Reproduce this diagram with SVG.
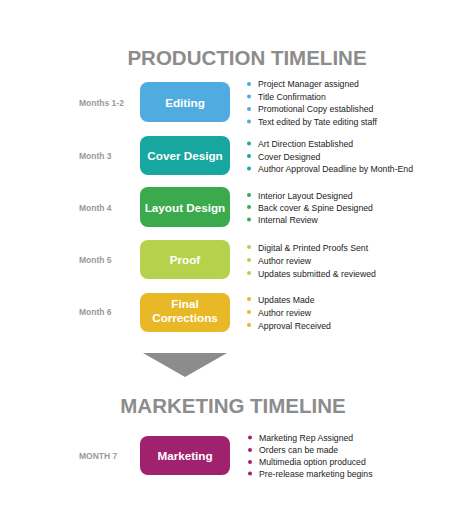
<svg xmlns="http://www.w3.org/2000/svg" width="474" height="522" viewBox="0 0 474 522">
<style>
.title{font-family:"Liberation Sans",Arial,sans-serif;font-weight:bold;font-size:20.5px;fill:#8c8c8c}
.month{font-family:"Liberation Sans",Arial,sans-serif;font-weight:bold;font-size:8.5px;fill:#9a9a9a}
.lbl{font-family:"Liberation Sans",Arial,sans-serif;font-weight:bold;font-size:11.7px;fill:#fff;text-anchor:middle}
.item{font-family:"Liberation Sans",Arial,sans-serif;font-size:8.7px;fill:#222}
</style>
<rect width="474" height="522" fill="#fff"/>
<text class="title" x="247" y="65" text-anchor="middle">PRODUCTION TIMELINE</text>
<g id="editing">
<text class="month" x="79" y="106">Months 1-2</text>
<rect x="140" y="82" width="90" height="40" rx="8" fill="#4fabe0"/>
<text class="lbl" x="185" y="106.5">Editing</text>
<g fill="#4fabe0"><circle cx="249" cy="84" r="2"/><circle cx="249" cy="96.5" r="2"/><circle cx="249" cy="109" r="2"/><circle cx="249" cy="121.5" r="2"/></g>
<text class="item" x="258" y="87">Project Manager assigned</text>
<text class="item" x="258" y="99.5">Title Confirmation</text>
<text class="item" x="258" y="112">Promotional Copy established</text>
<text class="item" x="258" y="124.5">Text edited by Tate editing staff</text>
</g>
<g id="cover">
<text class="month" x="79" y="159">Month 3</text>
<rect x="140" y="136" width="90" height="39" rx="8" fill="#18a6a0"/>
<text class="lbl" x="185" y="160">Cover Design</text>
<g fill="#18a6a0"><circle cx="249" cy="143.5" r="2"/><circle cx="249" cy="156" r="2"/><circle cx="249" cy="168.5" r="2"/></g>
<text class="item" x="258" y="147">Art Direction Established</text>
<text class="item" x="258" y="159.5">Cover Designed</text>
<text class="item" x="258" y="172">Author Approval Deadline by Month-End</text>
</g>
<g id="layout">
<text class="month" x="79" y="211">Month 4</text>
<rect x="140" y="187" width="90" height="40" rx="8" fill="#3aaa4c"/>
<text class="lbl" x="185" y="212">Layout Design</text>
<g fill="#3aaa4c"><circle cx="249" cy="195" r="2"/><circle cx="249" cy="207" r="2"/><circle cx="249" cy="219.5" r="2"/></g>
<text class="item" x="258" y="198.5">Interior Layout Designed</text>
<text class="item" x="258" y="210.5">Back cover &amp; Spine Designed</text>
<text class="item" x="258" y="223">Internal Review</text>
</g>
<g id="proof">
<text class="month" x="79" y="263">Month 5</text>
<rect x="140" y="240" width="90" height="39" rx="8" fill="#b6d24c"/>
<text class="lbl" x="185" y="264">Proof</text>
<g fill="#b6d24c"><circle cx="249" cy="247" r="2"/><circle cx="249" cy="260" r="2"/><circle cx="249" cy="273" r="2"/></g>
<text class="item" x="258" y="250.5">Digital &amp; Printed Proofs Sent</text>
<text class="item" x="258" y="263.5">Author review</text>
<text class="item" x="258" y="276.5">Updates submitted &amp; reviewed</text>
</g>
<g id="final">
<text class="month" x="79" y="315">Month 6</text>
<rect x="140" y="293" width="90" height="39" rx="8" fill="#e9b826"/>
<text class="lbl" x="185" y="308">Final</text>
<text class="lbl" x="185" y="322">Corrections</text>
<g fill="#e9b826"><circle cx="249" cy="299" r="2"/><circle cx="249" cy="312" r="2"/><circle cx="249" cy="325" r="2"/></g>
<text class="item" x="258" y="302.5">Updates Made</text>
<text class="item" x="258" y="315.5">Author review</text>
<text class="item" x="258" y="328.5">Approval Received</text>
</g>
<g id="connectors">
<polygon points="143,353 227,353 185,377" fill="#8c8c8c"/>
</g>
<text class="title" x="233" y="413" text-anchor="middle">MARKETING TIMELINE</text>
<g id="marketing">
<text class="month" x="79" y="459">MONTH 7</text>
<rect x="140" y="436" width="90" height="39" rx="8" fill="#a0226f"/>
<text class="lbl" x="185" y="460">Marketing</text>
<g fill="#a0226f"><circle cx="250" cy="437.5" r="2"/><circle cx="250" cy="450" r="2"/><circle cx="250" cy="462" r="2"/><circle cx="250" cy="473.5" r="2"/></g>
<text class="item" x="259" y="441">Marketing Rep Assigned</text>
<text class="item" x="259" y="453">Orders can be made</text>
<text class="item" x="259" y="465">Multimedia option produced</text>
<text class="item" x="259" y="476.5">Pre-release marketing begins</text>
</g>
</svg>
